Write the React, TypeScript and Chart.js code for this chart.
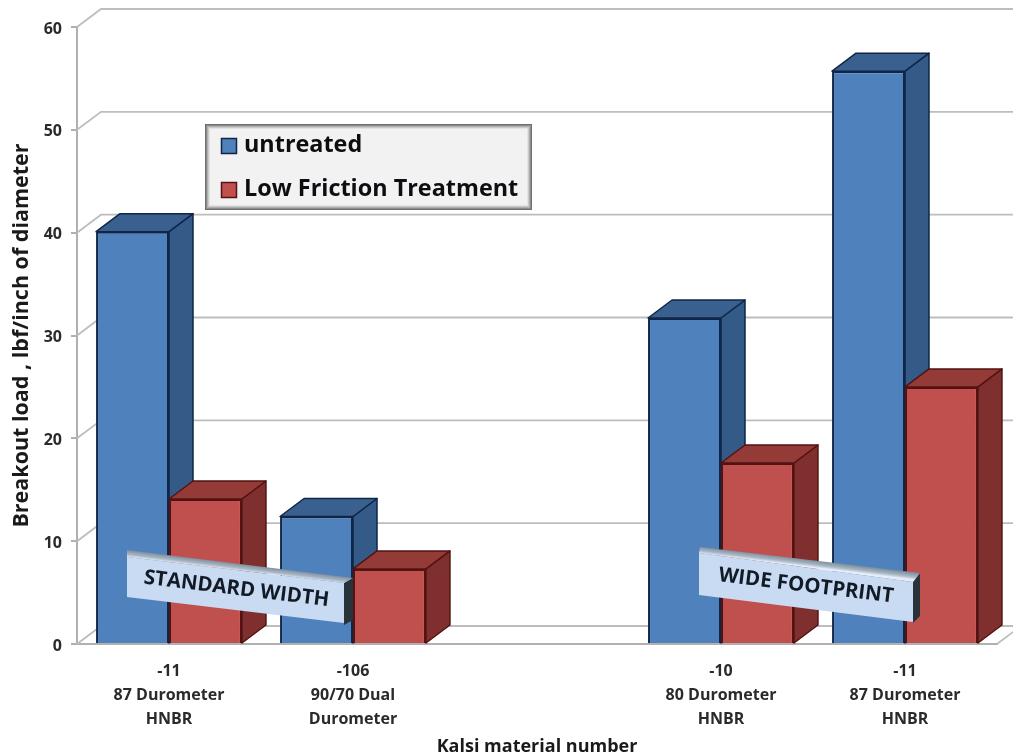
import React, { useEffect, useRef } from "react";
import { Chart, registerables } from "chart.js";

Chart.register(...registerables);

const categories: (string | string[])[] = [
  ["-11", "87 Durometer", "HNBR"],
  ["-106", "90/70 Dual", "Durometer"],
  "",
  ["-10", "80 Durometer", "HNBR"],
  ["-11", "87 Durometer", "HNBR"],
];
const untreated = [40.1, 12.4, null, 31.7, 55.7];
const lowFriction = [14.1, 7.3, null, 17.6, 25];
const seriesNames = ["untreated", "Low Friction Treatment"];
const yTitle = "Breakout load , lbf/inch of diameter";
const xTitle = "Kalsi material number";
const groupLabels = ["STANDARD WIDTH", "WIDE FOOTPRINT"];

const FONT = '"Open Sans", sans-serif';
const DEPTH_X = 24;
const DEPTH_Y = 18;
const GRID = "#bdbdbd";
const AXIS = "#b0b0b0";
const CAPTION_TILT = 0.122;

const faces = [
  { front: "#4f81bd", side: "#345a88", top: "#3a6090", edge: "#0f2647" },
  { front: "#c0504d", side: "#7f302e", top: "#943a37", edge: "#521312" },
];

type Pt = [number, number];

function poly(ctx: CanvasRenderingContext2D, pts: Pt[], fill: string | CanvasGradient, stroke?: string, lw = 1) {
  ctx.beginPath();
  pts.forEach(([x, y], i) => (i ? ctx.lineTo(x, y) : ctx.moveTo(x, y)));
  ctx.closePath();
  ctx.fillStyle = fill;
  ctx.fill();
  if (stroke) {
    ctx.lineWidth = lw;
    ctx.strokeStyle = stroke;
    ctx.stroke();
  }
}

// Back wall, side wall and floor lines, offset from the value axis by the depth.
const wallsPlugin = {
  id: "walls",
  beforeDatasetsDraw(chart: any) {
    const { ctx, scales } = chart;
    const y = scales.y;
    const left = scales.x.left;
    const right = scales.x.right;
    ctx.save();
    ctx.strokeStyle = GRID;
    ctx.lineWidth = 1.8;
    y.ticks.forEach((t: any) => {
      const py = y.getPixelForValue(t.value);
      ctx.beginPath();
      ctx.moveTo(left, py);
      ctx.lineTo(left + DEPTH_X, py - DEPTH_Y);
      ctx.lineTo(right + DEPTH_X, py - DEPTH_Y);
      ctx.stroke();
    });
    const base = y.getPixelForValue(0);
    ctx.beginPath();
    ctx.moveTo(right, base);
    ctx.lineTo(right + DEPTH_X, base - DEPTH_Y);
    ctx.stroke();
    ctx.restore();
  },
};

// Top and side faces of each column; the library paints the front face afterwards.
const depthPlugin = {
  id: "depth",
  beforeDatasetsDraw(chart: any) {
    const { ctx } = chart;
    ctx.save();
    ctx.lineJoin = "round";
    chart.data.datasets.forEach((_: any, d: number) => {
      const c = faces[d];
      chart.getDatasetMeta(d).data.forEach((bar: any, i: number) => {
        if (chart.data.datasets[d].data[i] == null) return;
        const l = bar.x - bar.width / 2;
        const r = bar.x + bar.width / 2;
        const t = bar.y;
        const b = bar.base;
        poly(ctx, [[r, t], [r + DEPTH_X, t - DEPTH_Y], [r + DEPTH_X, b - DEPTH_Y], [r, b]], c.side, c.edge, 1.5);
        poly(ctx, [[l, t], [l + DEPTH_X, t - DEPTH_Y], [r + DEPTH_X, t - DEPTH_Y], [r, t]], c.top, c.edge, 1.5);
      });
    });
    ctx.restore();
  },
};

type Caption = { top: Pt[]; face: Pt[]; side: Pt[]; at: Pt; label: string };

function caption(ctx: CanvasRenderingContext2D, c: Caption) {
  const [a, b] = c.top;
  // The bevel shades across its thickness, square to its slanted top edge.
  const mx = (a[0] + b[0]) / 2;
  const my = (a[1] + b[1]) / 2;
  const g = ctx.createLinearGradient(mx, my, mx - Math.sin(CAPTION_TILT) * 7, my + Math.cos(CAPTION_TILT) * 7);
  g.addColorStop(0, "#7f8f9e");
  g.addColorStop(0.6, "#a9b8c6");
  g.addColorStop(1, "#e6eef8");
  poly(ctx, c.side, "#28343a");
  poly(ctx, c.top, g);
  poly(ctx, c.face, "#c9dbf2");
  ctx.save();
  ctx.translate(c.at[0], c.at[1]);
  ctx.rotate(CAPTION_TILT);
  ctx.fillStyle = "#121a26";
  ctx.font = `700 20.5px ${FONT}`;
  ctx.textAlign = "center";
  ctx.textBaseline = "middle";
  ctx.fillText(c.label, 0, 0);
  ctx.restore();
}

// Legend panel and the two slanted group captions, painted over the columns.
const overlayPlugin = {
  id: "overlay",
  afterDatasetsDraw(chart: any) {
    const { ctx } = chart;
    ctx.save();

    const bx = 205, by = 124, bw = 327, bh = 86;
    ["#6e6e6e", "#8e8e8e", "#adadad", "#cbcbcb", "#e3e3e3", "#f2f2f2"].forEach((shade, i) => {
      ctx.fillStyle = shade;
      ctx.fillRect(bx + i, by + i, bw - 2 * i, bh - 2 * i);
    });

    const rows = [145, 189];
    const swatches = [146, 190];
    seriesNames.forEach((name, i) => {
      const c = faces[i];
      ctx.fillStyle = c.front;
      ctx.strokeStyle = c.edge;
      ctx.lineWidth = 1.5;
      ctx.fillRect(221.5, swatches[i] - 7.5, 15, 15);
      ctx.strokeRect(221.5, swatches[i] - 7.5, 15, 15);
      ctx.fillStyle = "#0e0e12";
      ctx.font = `700 23.4px ${FONT}`;
      ctx.textAlign = "left";
      ctx.textBaseline = "middle";
      ctx.fillText(name, 244, rows[i]);
    });

    caption(ctx, {
      top: [[127, 550], [353, 578], [344, 583], [127, 557]],
      face: [[127, 557], [344, 583], [344, 623], [127, 597]],
      side: [[344, 583], [353, 578], [353, 620], [344, 625]],
      at: [236.5, 589],
      label: groupLabels[0],
    });
    caption(ctx, {
      top: [[700, 547], [920, 573], [913, 582], [699, 553]],
      face: [[699, 553], [913, 582], [913, 622], [699, 595]],
      side: [[913, 582], [920, 573], [920, 616], [913, 623]],
      at: [806, 586],
      label: groupLabels[1],
    });
    ctx.restore();
  },
};

export default function App() {
  const ref = useRef<HTMLCanvasElement | null>(null);

  useEffect(() => {
    const chart = new Chart(ref.current as HTMLCanvasElement, {
      type: "bar",
      data: {
        labels: categories,
        datasets: [
          {
            label: seriesNames[0],
            data: untreated,
            backgroundColor: faces[0].front,
            borderColor: faces[0].edge,
            borderWidth: 2,
          },
          {
            label: seriesNames[1],
            data: lowFriction,
            backgroundColor: faces[1].front,
            borderColor: faces[1].edge,
            borderWidth: 2,
          },
        ],
      } as any,
      options: {
        animation: false,
        responsive: false,
        layout: { padding: { left: 0, right: 16, top: 27, bottom: 0 } },
        datasets: { bar: { barPercentage: 1, categoryPercentage: 0.793 } },
        plugins: { legend: { display: false }, tooltip: { enabled: false } },
        scales: {
          x: {
            afterFit(s: any) {
              s.height = 111;
            },
            grid: { display: false },
            border: { display: true, color: AXIS, width: 2 },
            ticks: {
              autoSkip: false,
              maxRotation: 0,
              minRotation: 0,
              padding: 8,
              color: "#2a2a2a",
              font: { family: FONT, size: 16, weight: "bold", lineHeight: 1.48 },
            },
            title: {
              display: true,
              text: xTitle,
              color: "#1a1a1a",
              font: { family: FONT, size: 18, weight: "bold" },
              padding: { top: 0, bottom: -3 },
            },
          },
          y: {
            min: 0,
            max: 60,
            afterFit(s: any) {
              s.width = 77;
            },
            grid: { display: true, drawOnChartArea: false, drawTicks: true, tickLength: 6, color: AXIS, lineWidth: 2 },
            border: { display: true, color: AXIS, width: 2 },
            ticks: {
              stepSize: 10,
              padding: 9,
              labelOffset: 2,
              color: "#2a2a2a",
              font: { family: FONT, size: 16, weight: "bold" },
            },
            title: {
              display: true,
              text: yTitle,
              color: "#1a1a1a",
              font: { family: FONT, size: 21.5, weight: "bold" },
              padding: { top: 9, bottom: 0 },
            },
          },
        },
      } as any,
      plugins: [wallsPlugin, depthPlugin, overlayPlugin],
    });
    return () => chart.destroy();
  }, []);

  return (
    <div style={{ position: "absolute", left: 0, top: 0, width: 1013, height: 755, background: "#fff", overflow: "hidden" }}>
      <canvas ref={ref} width={1013} height={755} style={{ display: "block" }} />
    </div>
  );
}
